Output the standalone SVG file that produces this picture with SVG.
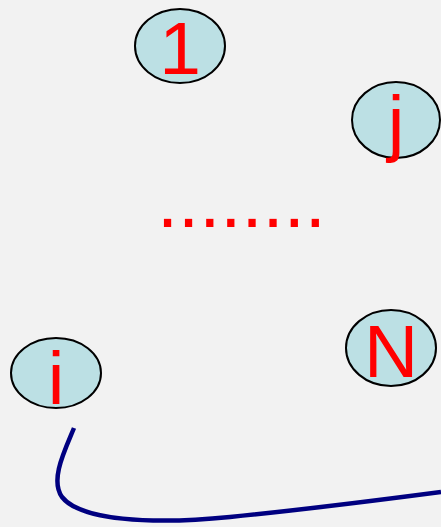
<svg xmlns="http://www.w3.org/2000/svg" width="441" height="527" viewBox="0 0 441 527">
<style>
.node ellipse{fill:#bce0e4;stroke:#000;stroke-width:2}
.lbl{font-family:"Liberation Sans",Arial,sans-serif;font-size:75px;fill:#ff0000;text-anchor:middle}
.conn{fill:none;stroke:#000080;stroke-width:4.5}
</style>
<rect width="441" height="527" fill="#f2f2f2"/>
<g id="connectors">
<path class="conn" d="M74,428 C64,452 50,480 62,497 C80,520 150,525 230,517 C300,510 380,500 441,492"/>
</g>
<g id="node-1" class="node"><ellipse cx="180" cy="46" rx="45" ry="37"/><text class="lbl" x="180" y="74">1</text></g>
<g id="node-j" class="node"><ellipse cx="396" cy="120" rx="44" ry="38"/><text class="lbl" x="396" y="148">j</text></g>
<g id="node-i" class="node"><ellipse cx="56" cy="373" rx="45" ry="35"/><text class="lbl" x="56" y="404">i</text></g>
<g id="node-N" class="node"><ellipse cx="391" cy="348" rx="45" ry="38"/><text class="lbl" x="391" y="377">N</text></g>
<g id="dots"><text x="157" y="227" font-family="Liberation Sans,Arial,sans-serif" font-size="76" fill="#ff0000">........</text></g>
</svg>
